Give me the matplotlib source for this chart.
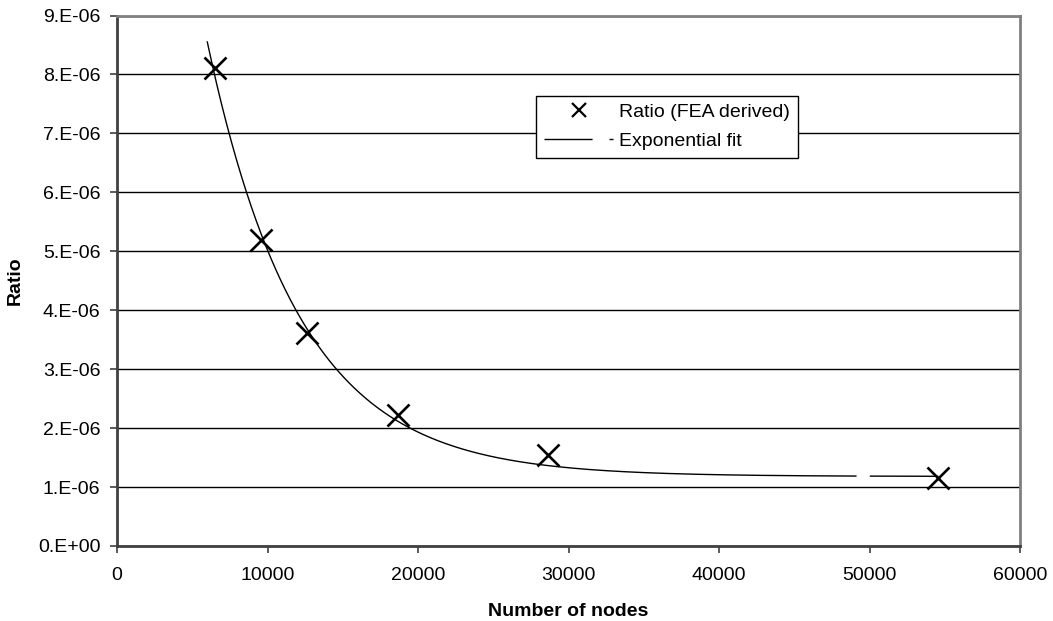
import numpy as np
import matplotlib
matplotlib.use('Agg')
import matplotlib.pyplot as plt
from matplotlib.ticker import FuncFormatter, MultipleLocator
from matplotlib.lines import Line2D

plt.rcParams['font.family'] = ['Liberation Sans', 'DejaVu Sans']

# FEA results
nodes = [6510, 9570, 12600, 18700, 28650, 54520]
ratio = [8.11e-06, 5.19e-06, 3.62e-06, 2.22e-06, 1.54e-06, 1.16e-06]

# exponential fit: ratio = c + a * exp(-b * nodes)
fit_a = 1.96e-05
fit_b = 1.63e-04
fit_c = 1.18e-06
fit_start = 6000
fit_break = (49100, 50000)   # break in the drawn trend line


def sci_label(v, pos):
    if v == 0:
        return '0.E+00'
    e = int(np.floor(np.log10(abs(v)) + 1e-9))
    return f'{v / 10**e:.0f}.E{e:+03d}'


fig = plt.figure(figsize=(10.53, 6.21), dpi=100)
ax = fig.add_axes([117/1053, 1 - 546/621, 903/1053, 530.5/621])

xf = np.linspace(fit_start, nodes[-1], 600)
yf = fit_c + fit_a * np.exp(-fit_b * xf)
yf = np.ma.masked_where((xf > fit_break[0]) & (xf < fit_break[1]), yf)

ax.plot(xf, yf, color='black', lw=1.0, zorder=3)
ax.plot(nodes, ratio, linestyle='none', marker='x', color='black',
        markersize=16, markeredgewidth=1.9, zorder=4)

ax.set_xlim(0, 60000)
ax.set_ylim(0, 9e-06)
ax.xaxis.set_major_locator(MultipleLocator(10000))
ax.yaxis.set_major_locator(MultipleLocator(1e-06))
ax.yaxis.set_major_formatter(FuncFormatter(sci_label))
ax.grid(axis='y', color='black', lw=1.0)
ax.set_axisbelow(True)

ax.tick_params(axis='both', direction='out', length=5, width=1.2,
               color='#404040', labelsize=14, pad=7)
ax.tick_params(axis='x', pad=10)
for side in ['left', 'bottom']:
    ax.spines[side].set_color('#404040')
    ax.spines[side].set_linewidth(2)
for side in ['top', 'right']:
    ax.spines[side].set_color('#808080')
    ax.spines[side].set_linewidth(2)

ax.set_xlabel('Number of nodes', fontsize=14, fontweight='bold', labelpad=14)
ax.set_ylabel('Ratio', fontsize=14, fontweight='bold', labelpad=10)

handles = [
    Line2D([], [], linestyle='none', marker='x', color='black',
           markersize=9.5, markeredgewidth=1.6),
    Line2D([], [], color='black', lw=1.0, dashes=(34.6, 12.2, 3.6, 200)),
]
leg = ax.legend(handles, ['Ratio (FEA derived)', 'Exponential fit'],
                loc='upper left', bbox_to_anchor=(536/1053, 1 - 95.5/621),
                bbox_transform=fig.transFigure, borderaxespad=0,
                fontsize=14, handlelength=3.55, handletextpad=0.3,
                borderpad=0.42, labelspacing=0.55, fancybox=False,
                framealpha=1, edgecolor='black')
leg.get_frame().set_linewidth(1.0)

fig.savefig('out.png', dpi=100)
